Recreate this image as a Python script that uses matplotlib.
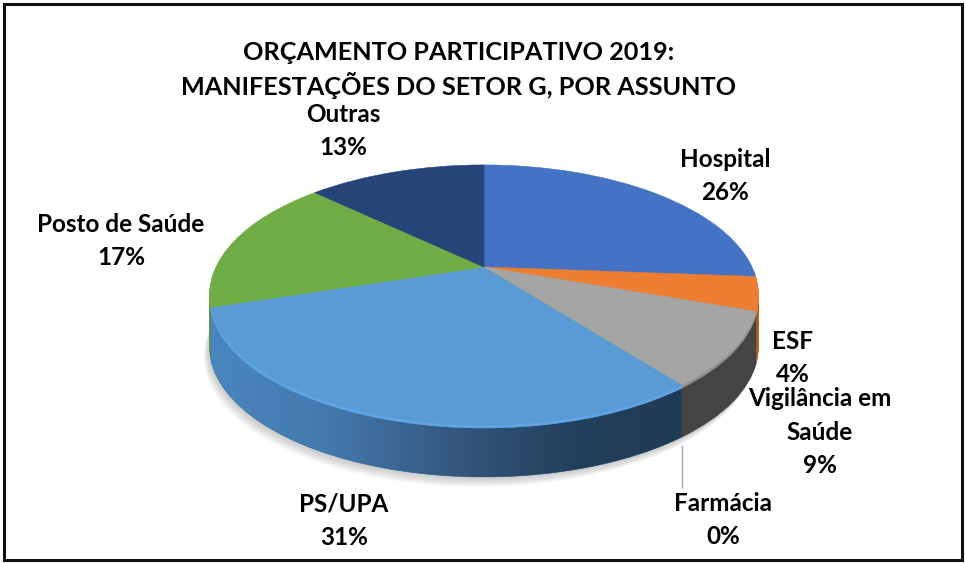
import numpy as np
import matplotlib
matplotlib.use('Agg')
import matplotlib.pyplot as plt
from matplotlib.patches import PathPatch, Rectangle
from matplotlib.path import Path
from matplotlib.transforms import Transform
from matplotlib.colors import LinearSegmentedColormap

plt.rcParams['font.family'] = ['Lato', 'DejaVu Sans']

titulo = 'ORÇAMENTO PARTICIPATIVO 2019:\nMANIFESTAÇÕES DO SETOR G, POR ASSUNTO'
assuntos = ['Hospital', 'ESF', 'Vigilância em\nSaúde', 'Farmácia', 'PS/UPA', 'Posto de Saúde', 'Outras']
valores = [26.2, 4.2, 9.1, 0, 30.6, 17.0, 12.9]

cores_topo = ['#4472c4', '#ed7d31', '#a5a5a5', '#ffc000', '#5b9bd5', '#70ad47', '#264478']
cores_lado = ['#2f528f', '#b85f20', '#444444', '#7f6000', '#3c6c9e', '#5a9a38', '#1a2f55']
cores_borda = ['#4472c4', '#ed7d31', '#8f8f8f', '#ffc000', '#5fa5e6', '#70ad47', '#264478']

pos_rotulos = [(725, 176), (793, 358), (820, 432), (723, 520), (344, 521), (121, 241), (343, 131)]

# geometria do disco em pixels
CX, CY = 484, 267
A, B, K = 268, 124, 0.215
ALTURA = 52


class Perspectiva(Transform):
    input_dims = 2
    output_dims = 2
    is_affine = False

    def __init__(self, dx=0, dy=0):
        super().__init__()
        self.dx = dx
        self.dy = dy

    def transform_non_affine(self, xy):
        xy = np.asarray(xy, dtype=float)
        w = 1 + K * xy[:, 1]
        return np.column_stack((CX + self.dx + A * xy[:, 0] / w,
                                CY + self.dy - B * xy[:, 1] / w))


def desenha_pizza(ax, cores, dx=0, dy=0, alpha=None, zorder=1):
    wedges, _ = ax.pie(valores, colors=cores, startangle=90, counterclock=False)
    t = Perspectiva(dx, dy) + ax.transData
    for w in wedges:
        w.set_transform(t)
        w.set_clip_on(False)
        w.set_zorder(zorder)
        if alpha is None:
            w.set_edgecolor(w.get_facecolor())
            w.set_linewidth(0.4)
        else:
            w.set_linewidth(0)
            w.set_alpha(alpha)


def ponto_borda(angulo, dy=0):
    return Perspectiva(0, dy).transform_non_affine(
        np.column_stack((np.cos(np.radians(angulo)), np.sin(np.radians(angulo)))))


fig = plt.figure(figsize=(9.65, 5.63), dpi=100)
ax = fig.add_axes([0, 0, 1, 1])

# sombra
for d in range(10, 0, -1):
    desenha_pizza(ax, ['#8a8a8a'] * len(valores), dx=-d * 0.6, dy=ALTURA + d, alpha=0.05)

# parede lateral
for d in range(ALTURA, 0, -2):
    desenha_pizza(ax, cores_lado, dy=d)

# degrade na parede do PS/UPA
acum = np.cumsum(valores) / sum(valores)
ang_ini = 90 - 360 * acum[3]
ang_fim = 90 - 360 * acum[4]
angs = np.linspace(ang_ini, ang_fim, 100)
clip_v = np.vstack((ponto_borda(angs, 3), ponto_borda(angs[::-1], ALTURA)))
clip = PathPatch(Path(clip_v, closed=False), transform=ax.transData, fc='none', ec='none')
ax.add_patch(clip)
cmap = LinearSegmentedColormap.from_list('parede', ['#4a86c0', '#4379ad', '#35587f', '#223f5b', '#203b55'])
img = ax.imshow(np.linspace(0, 1, 256).reshape(1, -1), cmap=cmap, aspect='auto',
                extent=(205, 700, 500, 290), zorder=2)
img.set_clip_path(clip)

# borda clara e topo
for d in [3, 2, 1]:
    desenha_pizza(ax, cores_borda, dy=d, zorder=3)
desenha_pizza(ax, cores_topo, zorder=4)

# linha guia da Farmacia
ang_f = 90 - 360 * acum[3]
xf, yf = ponto_borda(ang_f, ALTURA)[0]
ax.plot([xf, xf], [yf + 9, yf + 50], color='#a6a6a6', lw=1.0, zorder=5)

ax.set_xlim(0, 965)
ax.set_ylim(563, 0)
ax.set_aspect('auto')
ax.axis('off')

ax.add_patch(Rectangle((4, 4), 958, 556, fc='none', ec='#111111', lw=2.2, zorder=6))

ax.text(459, 70, titulo, ha='center', va='center', fontsize=18.2, fontweight='bold',
        color='#000000', linespacing=1.35, zorder=7)

for nome, v, (x, y) in zip(assuntos, valores, pos_rotulos):
    ax.text(x, y, f'{nome}\n{round(v)}%', ha='center', va='center', fontsize=17.5, fontweight='bold',
            color='#000000', linespacing=1.56, zorder=7)

fig.savefig('out.png', dpi=100, facecolor='white')
